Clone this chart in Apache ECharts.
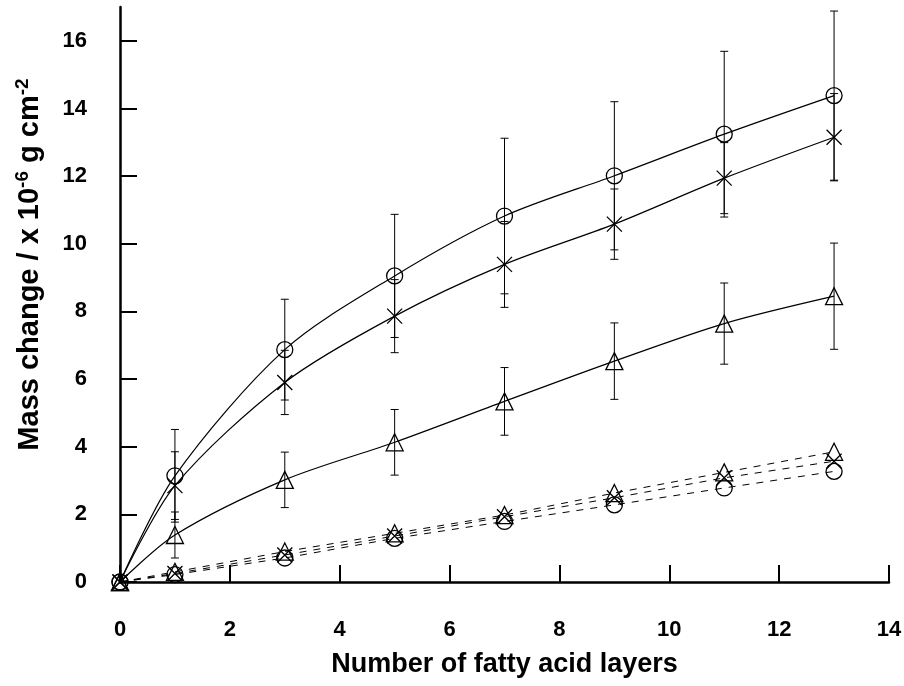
<!DOCTYPE html>
<html>
<head>
<meta charset="utf-8">
<script src="https://cdn.jsdelivr.net/npm/echarts@6/dist/echarts.min.js"></script>
<style>
  html, body { margin: 0; padding: 0; background: #fff; }
  #chart { width: 904px; height: 686px; }
</style>
</head>
<body>
<div id="chart"></div>
<script>
// fatty acid layers (x) and mass change values
const layers = [0, 1, 3, 5, 7, 9, 11, 13];

const circleFit = [0, 3.14, 6.87, 9.05, 10.82, 12.01, 13.24, 14.38];
const circleErr = [0, 1.37, 1.49, 1.82, 2.30, 2.19, 2.45, 2.50];
const crossFit = [0, 2.85, 5.90, 7.86, 9.39, 10.58, 11.94, 13.15];
const crossErr = [0, 1.00, 0.95, 1.08, 1.27, 1.04, 1.05, 1.29];
const triFit = [0, 1.39, 3.02, 4.13, 5.34, 6.53, 7.64, 8.45];
const triErr = [0, 0.68, 0.82, 0.97, 1.00, 1.13, 1.20, 1.57];

const circleLow = [0, 0.22, 0.71, 1.29, 1.79, 2.28, 2.78, 3.27];
const crossLow = [0, 0.25, 0.80, 1.36, 1.93, 2.49, 3.08, 3.57];
const triLow = [0, 0.30, 0.90, 1.44, 1.98, 2.63, 3.24, 3.85];

const xTicks = [0, 2, 4, 6, 8, 10, 12, 14];
const yTicks = [0, 2, 4, 6, 8, 10, 12, 14, 16];

const FONT = '"Liberation Sans", Arial, sans-serif';
const CROSS = 'path://M0,0L10,10M0,10L10,0';

const chart = echarts.init(document.getElementById('chart'));

const pairs = (ys) => layers.map((x, i) => [x, ys[i]]);

function markerSeries(ys, symbol, size, dashed) {
  return {
    type: 'line',
    data: pairs(ys),
    smooth: dashed ? false : 0.3,
    symbol: symbol,
    symbolSize: size,
    symbolKeepAspect: true,
    lineStyle: { color: '#000', width: dashed ? 1 : 1.2, type: dashed ? [7, 7] : 'solid' },
    itemStyle: { color: 'rgba(0,0,0,0)', borderColor: '#000', borderWidth: 1.3 },
    z: 3
  };
}

function errorSeries(ys, errs) {
  return {
    type: 'custom',
    data: layers.map((x, i) => [x, ys[i], errs[i]]),
    encode: { x: 0, y: 1 },
    z: 2,
    renderItem: (params, api) => {
      const x = api.value(0), y = api.value(1), e = api.value(2);
      if (!e) return null;
      const top = api.coord([x, y + e]);
      const bot = api.coord([x, y - e]);
      const cap = 4;
      const style = { stroke: '#000', lineWidth: 1 };
      return {
        type: 'group',
        children: [
          { type: 'line', shape: { x1: top[0], y1: top[1], x2: bot[0], y2: bot[1] }, style },
          { type: 'line', shape: { x1: top[0] - cap, y1: top[1], x2: top[0] + cap, y2: top[1] }, style },
          { type: 'line', shape: { x1: bot[0] - cap, y1: bot[1], x2: bot[0] + cap, y2: bot[1] }, style }
        ]
      };
    }
  };
}

const option = {
  animation: false,
  backgroundColor: '#fff',
  grid: { left: 120, right: 15, top: 7, bottom: 104, outerBoundsMode: 'none' },
  xAxis: {
    type: 'value',
    min: 0,
    max: 14,
    interval: 2,
    name: 'Number of fatty acid layers',
    nameLocation: 'middle',
    nameGap: 69,
    nameTextStyle: { fontFamily: FONT, fontWeight: 'bold', fontSize: 27, color: '#000' },
    axisLine: { lineStyle: { color: '#000', width: 2.5 } },
    axisTick: { inside: true, length: 17, lineStyle: { color: '#000', width: 2 }, customValues: xTicks },
    axisLabel: { margin: 37, fontFamily: FONT, fontWeight: 'bold', fontSize: 22, color: '#000', customValues: xTicks },
    splitLine: { show: false }
  },
  yAxis: {
    type: 'value',
    min: 0,
    max: 17,
    interval: 2,
    name: 'Mass change / x 10{sup|-6} g cm{sup|-2}',
    nameLocation: 'middle',
    nameGap: 74,
    nameTextStyle: {
      fontFamily: FONT, fontWeight: 'bold', fontSize: 29, color: '#000',
      padding: [0, 0, 0, 60],
      rich: {
        sup: { fontFamily: FONT, fontWeight: 'bold', fontSize: 19, color: '#000', verticalAlign: 'top', padding: [0, 0, 14, 0] }
      }
    },
    axisLine: { lineStyle: { color: '#000', width: 2.5 } },
    axisTick: { inside: true, length: 17, lineStyle: { color: '#000', width: 2 }, customValues: yTicks },
    axisLabel: { margin: 33, fontFamily: FONT, fontWeight: 'bold', fontSize: 22, color: '#000', customValues: yTicks },
    splitLine: { show: false }
  },
  series: [
    errorSeries(circleFit, circleErr),
    errorSeries(crossFit, crossErr),
    errorSeries(triFit, triErr),
    markerSeries(circleFit, 'circle', 16, false),
    markerSeries(crossFit, CROSS, 15, false),
    markerSeries(triFit, 'triangle', 17, false),
    markerSeries(circleLow, 'circle', 16, true),
    markerSeries(crossLow, CROSS, 15, true),
    markerSeries(triLow, 'triangle', 17, true)
  ]
};

chart.setOption(option);
</script>
</body>
</html>
